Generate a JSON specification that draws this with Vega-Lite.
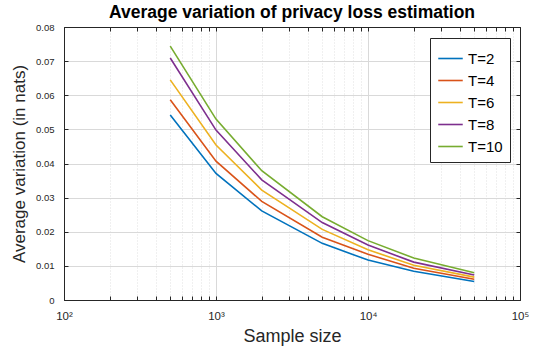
{
  "$schema": "https://vega.github.io/schema/vega-lite/v6.json",
  "width": 456,
  "height": 273,
  "autosize": {"type": "none"},
  "padding": {"left": 64, "top": 27, "right": 18, "bottom": 52},
  "config": {
    "font": "Liberation Sans",
    "view": {"stroke": "#262626", "strokeWidth": 1},
    "axis": {
      "domainColor": "#262626",
      "tickColor": "#262626",
      "labelColor": "#262626",
      "titleColor": "#262626",
      "labelFont": "Liberation Sans",
      "titleFont": "Liberation Sans",
      "titleFontWeight": "normal"
    }
  },
  "title": {
    "text": "Average variation of privacy loss estimation",
    "fontSize": 17.5,
    "fontWeight": "bold",
    "color": "#000000",
    "offset": 1
  },
  "data": {
    "values": [
      {"n": 500, "T": "T=2", "v": 0.0542},
      {"n": 1000, "T": "T=2", "v": 0.0371},
      {"n": 2000, "T": "T=2", "v": 0.0261},
      {"n": 5000, "T": "T=2", "v": 0.0166},
      {"n": 10000, "T": "T=2", "v": 0.0117},
      {"n": 20000, "T": "T=2", "v": 0.0084},
      {"n": 50000, "T": "T=2", "v": 0.0054},
      {"n": 500, "T": "T=4", "v": 0.0587},
      {"n": 1000, "T": "T=4", "v": 0.0407},
      {"n": 2000, "T": "T=4", "v": 0.0289},
      {"n": 5000, "T": "T=4", "v": 0.0184},
      {"n": 10000, "T": "T=4", "v": 0.0134},
      {"n": 20000, "T": "T=4", "v": 0.0093},
      {"n": 50000, "T": "T=4", "v": 0.0061},
      {"n": 500, "T": "T=6", "v": 0.0645},
      {"n": 1000, "T": "T=6", "v": 0.0454},
      {"n": 2000, "T": "T=6", "v": 0.0322},
      {"n": 5000, "T": "T=6", "v": 0.0207},
      {"n": 10000, "T": "T=6", "v": 0.0147},
      {"n": 20000, "T": "T=6", "v": 0.0102},
      {"n": 50000, "T": "T=6", "v": 0.0067},
      {"n": 500, "T": "T=8", "v": 0.0709},
      {"n": 1000, "T": "T=8", "v": 0.0498},
      {"n": 2000, "T": "T=8", "v": 0.0352},
      {"n": 5000, "T": "T=8", "v": 0.0227},
      {"n": 10000, "T": "T=8", "v": 0.0161},
      {"n": 20000, "T": "T=8", "v": 0.0111},
      {"n": 50000, "T": "T=8", "v": 0.0073},
      {"n": 500, "T": "T=10", "v": 0.0744},
      {"n": 1000, "T": "T=10", "v": 0.0530},
      {"n": 2000, "T": "T=10", "v": 0.0379},
      {"n": 5000, "T": "T=10", "v": 0.0244},
      {"n": 10000, "T": "T=10", "v": 0.0174},
      {"n": 20000, "T": "T=10", "v": 0.0123},
      {"n": 50000, "T": "T=10", "v": 0.0080}
    ]
  },
  "layer": [
    {
      "mark": {"type": "line", "strokeWidth": 1.6},
      "encoding": {
        "x": {
          "field": "n",
          "type": "quantitative",
          "scale": {"type": "log", "domain": [100, 100000], "nice": false},
          "axis": {
            "orient": "bottom",
            "title": "Sample size",
            "titleFontSize": 18,
            "titlePadding": 6,
            "values": [100, 200, 300, 400, 500, 600, 700, 800, 900, 1000, 2000, 3000, 4000, 5000, 6000, 7000, 8000, 9000, 10000, 20000, 30000, 40000, 50000, 60000, 70000, 80000, 90000, 100000],
            "labelExpr": "datum.value == 100 ? '10²' : datum.value == 1000 ? '10³' : datum.value == 10000 ? '10⁴' : datum.value == 100000 ? '10⁵' : ''",
            "labelFontSize": 11.5,
            "labelPadding": 14,
            "labelFlush": false,
            "tickSize": -4,
            "grid": true,
            "gridColor": {"condition": {"test": "datum.value == 100 || datum.value == 1000 || datum.value == 10000 || datum.value == 100000", "value": "#d9d9d9"}, "value": "#e0e0e0"},
            "gridDash": {"condition": {"test": "datum.value == 100 || datum.value == 1000 || datum.value == 10000 || datum.value == 100000", "value": []}, "value": [1, 2]}
          }
        },
        "y": {
          "field": "v",
          "type": "quantitative",
          "scale": {"domain": [0, 0.08], "nice": false},
          "axis": {
            "orient": "left",
            "title": "Average variation (in nats)",
            "titleFontSize": 17,
            "titlePadding": 7,
            "values": [0, 0.01, 0.02, 0.03, 0.04, 0.05, 0.06, 0.07, 0.08],
            "labelExpr": "datum.value == 0 ? '0' : format(datum.value, '.2f')",
            "labelFontSize": 9.5,
            "labelPadding": 14,
            "labelFlush": false,
            "tickSize": -4,
            "grid": true,
            "gridColor": "#d9d9d9"
          }
        },
        "color": {
          "field": "T",
          "type": "nominal",
          "sort": ["T=2", "T=4", "T=6", "T=8", "T=10"],
          "scale": {
            "domain": ["T=2", "T=4", "T=6", "T=8", "T=10"],
            "range": ["#0072BD", "#D95319", "#EDB120", "#7E2F8E", "#77AC30"]
          },
          "legend": {
            "title": null,
            "orient": "none",
            "legendX": 366,
            "legendY": 11,
            "symbolType": "stroke",
            "symbolStrokeWidth": 1.6,
            "symbolSize": 600,
            "labelFontSize": 15,
            "labelColor": "#000000",
            "labelFont": "Liberation Sans",
            "rowPadding": -2,
            "padding": 7,
            "strokeColor": "#262626",
            "fillColor": "#ffffff",
            "cornerRadius": 0
          }
        }
      }
    },
    {
      "mark": {"type": "line", "opacity": 0},
      "encoding": {
        "x": {
          "field": "n",
          "type": "quantitative",
          "scale": {"type": "log", "domain": [100, 100000], "nice": false},
          "axis": {
            "orient": "top",
            "title": null,
            "values": [100, 200, 300, 400, 500, 600, 700, 800, 900, 1000, 2000, 3000, 4000, 5000, 6000, 7000, 8000, 9000, 10000, 20000, 30000, 40000, 50000, 60000, 70000, 80000, 90000, 100000],
            "labels": false,
            "tickSize": -4,
            "grid": false
          }
        },
        "y": {
          "field": "v",
          "type": "quantitative",
          "scale": {"domain": [0, 0.08], "nice": false},
          "axis": {
            "orient": "right",
            "title": null,
            "values": [0, 0.01, 0.02, 0.03, 0.04, 0.05, 0.06, 0.07, 0.08],
            "labels": false,
            "tickSize": -4,
            "grid": false
          }
        },
        "detail": {"field": "T", "type": "nominal"}
      }
    }
  ],
  "resolve": {"axis": {"x": "independent", "y": "independent"}}
}
